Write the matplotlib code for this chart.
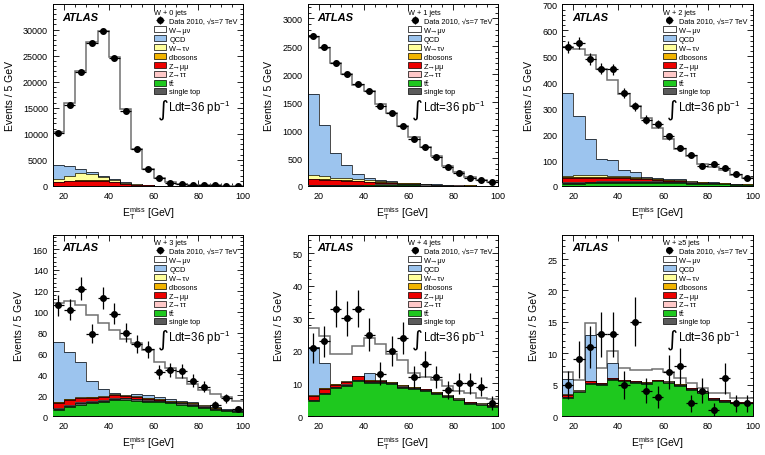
import numpy as np
import matplotlib
matplotlib.use('Agg')
import matplotlib.pyplot as plt
from matplotlib.patches import Patch
from matplotlib.ticker import MultipleLocator

plt.rcParams['font.family'] = ['Liberation Sans', 'DejaVu Sans']
plt.rcParams['mathtext.fontset'] = 'custom'
plt.rcParams['mathtext.rm'] = 'Liberation Sans'
plt.rcParams['mathtext.it'] = 'Liberation Sans:italic'

# bin edges of E_T^miss [GeV]
bin_edges = [15, 20, 25, 30, 35, 40, 45, 50, 55, 60, 65, 70, 75, 80, 85, 90, 95, 100]

# ---- W + 0 jets
data_0j = [10200, 15500, 21900, 27500, 29700, 24600, 14300, 7000, 3200, 1600, 650, 350, 200, 150, 100, 80, 60]
wmunu_0j = [6300, 12100, 18700, 25000, 27800, 23400, 14000, 6650, 3130, 1520, 660, 360, 210, 145, 105, 77, 58]
qcd_0j = [2600, 2000, 900, 400, 200, 100, 100, 50, 20, 10, 5, 2, 1, 1, 1, 0, 0]
wtaunu_0j = [670, 960, 1350, 1150, 750, 360, 170, 80, 40, 15, 7, 4, 2, 1, 1, 1, 1]
diboson_0j = [30, 40, 50, 50, 50, 40, 30, 20, 10, 5, 3, 2, 1, 1, 1, 1, 1]
zmumu_0j = [630, 820, 920, 930, 940, 750, 360, 175, 85, 40, 20, 8, 5, 2, 1, 1, 0]
ztautau_0j = [60, 70, 70, 60, 50, 40, 30, 20, 10, 5, 3, 2, 1, 1, 1, 1, 0]
stop_0j = [3, 3, 3, 3, 3, 3, 2, 2, 2, 1, 1, 1, 1, 1, 0, 0, 0]
ttbar_0j = [5, 5, 5, 5, 5, 5, 4, 3, 3, 2, 2, 1, 1, 1, 1, 1, 1]

# ---- W + 1 jets
data_1j = [2680, 2490, 2200, 2000, 1830, 1700, 1440, 1300, 1070, 840, 690, 510, 340, 240, 150, 100, 70]
wmunu_1j = [1020, 1370, 1620, 1640, 1600, 1561, 1357, 1218, 1009, 825, 658, 513, 343, 238, 150, 103, 71]
qcd_1j = [1460, 930, 440, 230, 90, 30, 10, 5, 3, 2, 1, 1, 0, 0, 0, 0, 0]
wtaunu_1j = [60, 50, 40, 40, 30, 30, 25, 20, 12, 8, 5, 3, 2, 1, 1, 1, 0]
diboson_1j = [10, 10, 10, 10, 10, 9, 8, 7, 6, 5, 4, 3, 2, 1, 1, 0, 0]
zmumu_1j = [100, 89, 79, 67, 56, 45, 33, 21, 7, 4, 2, 2, 1, 1, 1, 1, 1]
ztautau_1j = [10, 10, 8, 8, 7, 6, 5, 4, 3, 2, 2, 1, 1, 1, 1, 1, 0]
stop_1j = [5, 6, 7, 8, 9, 10, 12, 15, 20, 25, 20, 10, 6, 4, 3, 2, 1]
ttbar_1j = [5, 5, 6, 7, 8, 9, 10, 10, 10, 9, 8, 7, 5, 4, 3, 2, 2]

# ---- W + 2 jets
data_2j = [535, 550, 490, 452, 450, 360, 308, 256, 240, 191, 145, 120, 78, 86, 71, 48, 32]
wmunu_2j = [179, 260, 325, 348, 309, 295, 255, 230, 192, 153, 115, 96, 68, 59, 50, 35, 26]
qcd_2j = [318, 227, 138, 62, 60, 22, 20, 3, 3, 3, 5, 2, 1, 1, 1, 0, 0]
wtaunu_2j = [6, 6, 6, 5, 5, 5, 4, 3, 3, 2, 2, 1, 1, 1, 1, 0, 0]
diboson_2j = [4, 4, 4, 4, 4, 4, 3, 3, 3, 2, 2, 2, 1, 1, 1, 1, 1]
zmumu_2j = [16, 16, 15, 14, 13, 11, 9, 6, 4, 3, 2, 1, 1, 1, 1, 0, 0]
ztautau_2j = [3, 3, 3, 3, 2, 2, 2, 2, 1, 1, 1, 1, 1, 0, 0, 0, 0]
stop_2j = [3, 3, 4, 4, 4, 4, 4, 5, 5, 5, 5, 4, 3, 3, 2, 2, 1]
ttbar_2j = [8, 9, 10, 11, 12, 12, 12, 12, 12, 11, 10, 9, 8, 7, 6, 5, 4]

# ---- W + 3 jets
data_3j = [106, 102, 122, 79, 113, 98, 80, 69, 64, 42, 44, 43, 34, 28, 11, 17, 7]
wmunu_3j = [38, 49, 54, 63, 63, 60, 53, 49, 43, 34, 30, 22, 18, 14, 13, 11, 8]
qcd_3j = [57, 45, 34, 15, 7, 1, 0.5, 2, 3, 1.5, 1.5, 0.6, 0.8, 0.9, 0.9, 0.8, 0.9]
wtaunu_3j = [0.5, 0.6, 0.6, 0.6, 0.5, 0.5, 0.5, 0.4, 0.4, 0.3, 0.3, 0.3, 0.2, 0.2, 0.2, 0.1, 0.1]
diboson_3j = [0.5, 0.5, 0.5, 0.5, 0.5, 0.5, 0.5, 0.5, 0.4, 0.4, 0.3, 0.3, 0.3, 0.2, 0.2, 0.2, 0.1]
zmumu_3j = [5, 5, 4, 3.5, 3, 3, 1.5, 1.5, 1.5, 1, 0.5, 0.5, 0.5, 0.5, 0.5, 0.3, 0.3]
ztautau_3j = [0.5, 0.5, 0.5, 0.5, 0.5, 0.5, 0.5, 0.4, 0.4, 0.3, 0.3, 0.3, 0.2, 0.2, 0.2, 0.1, 0.1]
stop_3j = [1, 1, 1.5, 1.5, 1.5, 1.5, 2, 2, 1.5, 1.5, 1, 1, 1, 1, 0.5, 0.5, 0.5]
ttbar_3j = [6, 9, 11, 12, 13, 15, 15, 14, 13, 13, 12, 11, 10, 8, 6, 5, 4]

# ---- W + 4 jets
data_4j = [21, 23, 33, 30, 33, 25, 13, 20, 24, 12, 16, 12, 8, 10, 10, 9, 4]
wmunu_4j = [5.8, 8.2, 9.2, 8.3, 9.1, 10.8, 11.1, 8.6, 7.6, 4.2, 3.7, 3.7, 2.7, 2.2, 2.7, 1.7, 1.7]
qcd_4j = [14.8, 7.7, 0, 0, 0, 2.2, 0, 0, 0, 0, 0, 0, 0, 0, 0, 0, 0]
wtaunu_4j = [0.1, 0.1, 0.1, 0.1, 0.1, 0.1, 0.1, 0.1, 0.1, 0.1, 0.1, 0.1, 0.1, 0.1, 0.1, 0.1, 0.1]
diboson_4j = [0.1, 0.1, 0.1, 0.1, 0.1, 0.1, 0.1, 0.1, 0.1, 0.1, 0.1, 0.1, 0.1, 0.1, 0.1, 0.1, 0.1]
zmumu_4j = [1.3, 1.2, 0.7, 0.8, 1.0, 0.3, 0.2, 0.2, 0.2, 0.1, 0.1, 0.1, 0.1, 0.1, 0.1, 0.1, 0.1]
ztautau_4j = [0.1, 0.1, 0.1, 0.1, 0.1, 0.1, 0.1, 0.1, 0.1, 0.1, 0.1, 0.1, 0.1, 0.1, 0.1, 0.1, 0.1]
stop_4j = [0.3, 0.3, 0.3, 0.3, 0.3, 0.3, 0.3, 0.3, 0.3, 0.2, 0.2, 0.2, 0.2, 0.2, 0.2, 0.2, 0.2]
ttbar_4j = [4.5, 6.8, 8.5, 9.3, 10.8, 10.2, 10.2, 9.7, 8.7, 8.3, 7.8, 6.8, 5.8, 4.8, 3.8, 3.3, 2.8]

# ---- W + >=5 jets
data_5j = [5, 9, 11, 13, 13, 5, 15, 4, 3, 7, 8, 2, 4, 1, 6, 2, 2]
wmunu_5j = [1.1, 1.7, 1.9, 2.4, 1.9, 1.8, 1.7, 1.9, 1.7, 1.5, 1.0, 0.8, 0.6, 0.8, 1.1, 0.6, 0.5]
qcd_5j = [2.5, 0, 7.2, 0, 2.4, 0, 0, 0, 0, 0, 0, 0, 0, 0, 0, 0, 0]
wtaunu_5j = [0.05, 0.05, 0.05, 0.05, 0.05, 0.05, 0.05, 0.05, 0.05, 0.05, 0.05, 0.05, 0.05, 0.05, 0.05, 0.05, 0.05]
diboson_5j = [0.05, 0.05, 0.05, 0.05, 0.05, 0.05, 0.05, 0.05, 0.05, 0.05, 0.05, 0.05, 0.05, 0.05, 0.05, 0.05, 0.05]
zmumu_5j = [0.3, 0.05, 0.3, 0.05, 0.05, 0.05, 0.05, 0.05, 0.05, 0.05, 0.05, 0.05, 0.05, 0.05, 0.05, 0.05, 0.05]
ztautau_5j = [0.05, 0.05, 0.05, 0.05, 0.05, 0.05, 0.05, 0.05, 0.05, 0.05, 0.05, 0.05, 0.05, 0.05, 0.05, 0.05, 0.05]
stop_5j = [0.1, 0.1, 0.1, 0.1, 0.1, 0.1, 0.1, 0.1, 0.1, 0.1, 0.1, 0.1, 0.1, 0.1, 0.1, 0.1, 0.1]
ttbar_5j = [2.9, 3.8, 5.1, 5.0, 5.8, 5.5, 5.3, 5.1, 5.5, 5.2, 4.8, 4.2, 3.6, 2.6, 2.3, 2.0, 2.0]

jet_labels = ['W + 0 jets', 'W + 1 jets', 'W + 2 jets', 'W + 3 jets', 'W + 4 jets', 'W + \u22655 jets']
y_max = [34800, 3250, 700, 174, 55.8, 28.9]
y_major = [5000, 500, 100, 20, 10, 5]

# stack order: bottom -> top
sample_names = ['tt\u0304', 'single top', 'Z\u2192\u03c4\u03c4', 'Z\u2192\u03bc\u03bc', 'dibosons',
                'W\u2192\u03c4\u03bd', 'QCD', 'W\u2192\u03bc\u03bd']
sample_colors = ['#1ec81e', '#5a5a5a', '#ffc8c8', '#ee0000', '#f2b400', '#ffff9c', '#9cc4ee', '#ffffff']
# legend order (indices into the lists above)
legend_order = [7, 6, 5, 4, 3, 2, 0, 1]

panels = [
    (data_0j, [ttbar_0j, stop_0j, ztautau_0j, zmumu_0j, diboson_0j, wtaunu_0j, qcd_0j, wmunu_0j]),
    (data_1j, [ttbar_1j, stop_1j, ztautau_1j, zmumu_1j, diboson_1j, wtaunu_1j, qcd_1j, wmunu_1j]),
    (data_2j, [ttbar_2j, stop_2j, ztautau_2j, zmumu_2j, diboson_2j, wtaunu_2j, qcd_2j, wmunu_2j]),
    (data_3j, [ttbar_3j, stop_3j, ztautau_3j, zmumu_3j, diboson_3j, wtaunu_3j, qcd_3j, wmunu_3j]),
    (data_4j, [ttbar_4j, stop_4j, ztautau_4j, zmumu_4j, diboson_4j, wtaunu_4j, qcd_4j, wmunu_4j]),
    (data_5j, [ttbar_5j, stop_5j, ztautau_5j, zmumu_5j, diboson_5j, wtaunu_5j, qcd_5j, wmunu_5j]),
]

fig = plt.figure(figsize=(7.65, 4.56), dpi=100)
lefts = [0.069, 0.402, 0.735]
bottoms = [0.590, 0.0855]
edges = np.array(bin_edges, dtype=float)
centers = 0.5 * (edges[:-1] + edges[1:])
half_width = 0.5 * (edges[1:] - edges[:-1])

for i, (data, samples) in enumerate(panels):
    ax = fig.add_axes([lefts[i % 3], bottoms[i // 3], 0.249, 0.398])
    cum = np.cumsum(np.array(samples, dtype=float), axis=0)

    # draw from the top of the stack downwards (ROOT THStack style)
    for k in range(len(samples) - 1, -1, -1):
        z = 2 + (7 - k) * 0.1
        ax.stairs(cum[k], edges, baseline=0, fill=True, color=sample_colors[k], lw=0, zorder=z)
        if k == len(samples) - 1:
            ax.stairs(cum[k], edges, baseline=None, color='#707070', lw=1.1, zorder=z + 0.05)
        else:
            ax.stairs(cum[k], edges, baseline=None, color='black', lw=0.5, zorder=z + 0.05)

    d = np.array(data, dtype=float)
    eb = ax.errorbar(centers, d, xerr=half_width, yerr=np.sqrt(d), fmt='o', color='black',
                     ms=4, elinewidth=0.9, capsize=0, zorder=5)

    ax.set_xlim(15, 100)
    ax.set_ylim(0, y_max[i])
    ax.xaxis.set_major_locator(MultipleLocator(20))
    ax.xaxis.set_minor_locator(MultipleLocator(5))
    ax.yaxis.set_major_locator(MultipleLocator(y_major[i]))
    ax.yaxis.set_minor_locator(MultipleLocator(y_major[i] / 5))
    ax.tick_params(which='both', direction='in', top=True, right=True, labelsize=6.5, width=0.6)
    ax.tick_params(which='major', length=4)
    ax.tick_params(which='minor', length=2)
    for sp in ax.spines.values():
        sp.set_linewidth(0.7)

    ax.set_xlabel(r'$\mathregular{E_{T}^{miss}}$ [GeV]', fontsize=7.5, labelpad=3)
    ax.set_ylabel('Events / 5 GeV', fontsize=7.5, labelpad=6)

    ax.text(0.05, 0.93, 'ATLAS', transform=ax.transAxes, fontsize=8, fontweight='bold',
            fontstyle='italic', va='center', ha='left')
    ax.text(0.55, 0.425, '\u222b', transform=ax.transAxes, fontsize=15, va='center', ha='left',
            family='DejaVu Sans')
    ax.text(0.605, 0.435, r'Ldt=36 pb$^{-1}$', transform=ax.transAxes, fontsize=8.3, va='center', ha='left')

    handles = [eb]
    labels = ['Data 2010, \u221as=7 TeV']
    for k in legend_order:
        handles.append(Patch(facecolor=sample_colors[k], edgecolor='black', lw=0.5))
        labels.append(sample_names[k])
    leg = ax.legend(handles, labels, loc='upper left', bbox_to_anchor=(0.53, 0.975), frameon=False,
                    fontsize=5.3, title=jet_labels[i], title_fontsize=5.3, alignment='left',
                    handlelength=1.7, handleheight=0.9, labelspacing=0.18, borderpad=0,
                    handletextpad=0.4, borderaxespad=0)
    # combining macron renders reliably in DejaVu Sans
    leg.get_texts()[labels.index('tt\u0304')].set_family('DejaVu Sans')
    leg.set_zorder(10)

fig.savefig('out.png', dpi=100)
